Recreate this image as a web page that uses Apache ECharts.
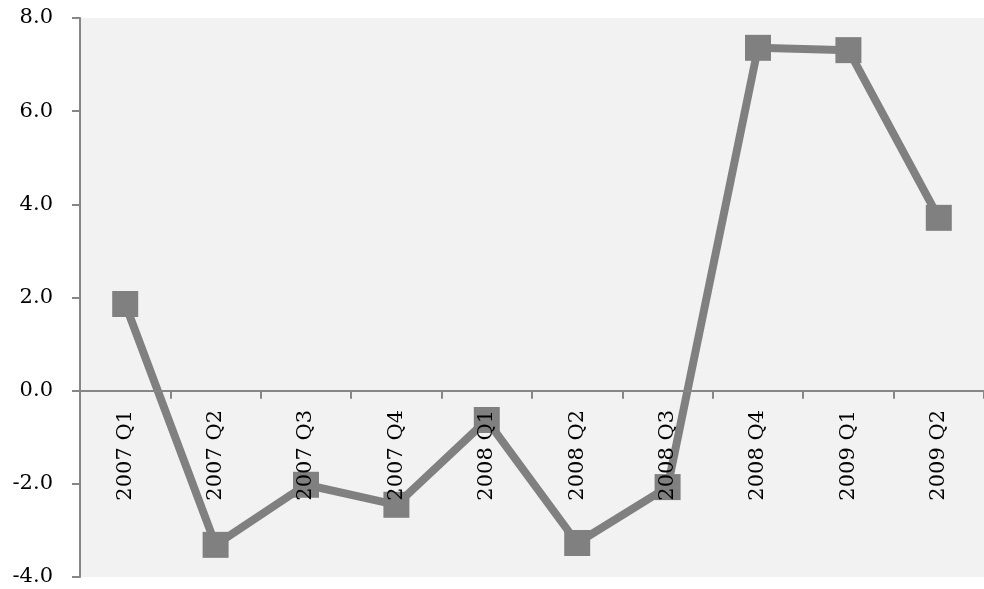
<!DOCTYPE html>
<html>
<head>
<meta charset="utf-8">
<script src="https://cdn.jsdelivr.net/npm/echarts@6/dist/echarts.min.js"></script>
<style>
  html, body { margin: 0; padding: 0; background: #fff; }
  #container { width: 984px; height: 589px; }
</style>
</head>
<body>
<div id="container"></div>
<script>
var quarters = ['2007 Q1', '2007 Q2', '2007 Q3', '2007 Q4', '2008 Q1',
                '2008 Q2', '2008 Q3', '2008 Q4', '2009 Q1', '2009 Q2'];
var values = [1.86, -3.31, -2.02, -2.45, -0.63, -3.27, -2.07, 7.36, 7.31, 3.71];

var dom = document.getElementById('container');
var myChart = echarts.init(dom);

var font = 'DejaVu Serif';

var option = {
    animation: false,
    grid: {
        left: 80,
        right: 0,
        top: 18,
        bottom: 12,
        containLabel: false,
        outerBoundsMode: 'none',
        show: true,
        backgroundColor: '#f2f2f2',
        borderWidth: 0
    },
    xAxis: {
        type: 'category',
        data: quarters,
        boundaryGap: true,
        z: 5,
        axisLine: { onZero: true, lineStyle: { color: '#868686', width: 2 } },
        axisTick: { show: true, length: 8, lineStyle: { color: '#868686', width: 2 } },
        // labels sit just under the zero line, inside the plot
        axisLabel: {
            rotate: 90,
            margin: -167,
            color: '#000',
            fontFamily: font,
            fontSize: 21
        },
        splitLine: { show: false }
    },
    yAxis: {
        type: 'value',
        min: -4,
        max: 8,
        interval: 2,
        axisLine: { show: true, lineStyle: { color: '#868686', width: 2 } },
        axisTick: { show: true, length: 8, lineStyle: { color: '#868686', width: 2 } },
        axisLabel: {
            margin: 27,
            color: '#000',
            fontFamily: font,
            fontSize: 21,
            formatter: function (v) { return v.toFixed(1); }
        },
        splitLine: { show: false }
    },
    series: [{
        type: 'line',
        data: values,
        symbol: 'rect',
        symbolSize: 26,
        lineStyle: { color: '#808080', width: 8 },
        itemStyle: { color: '#808080' },
        z: 3
    }]
};

myChart.setOption(option);
</script>
</body>
</html>
